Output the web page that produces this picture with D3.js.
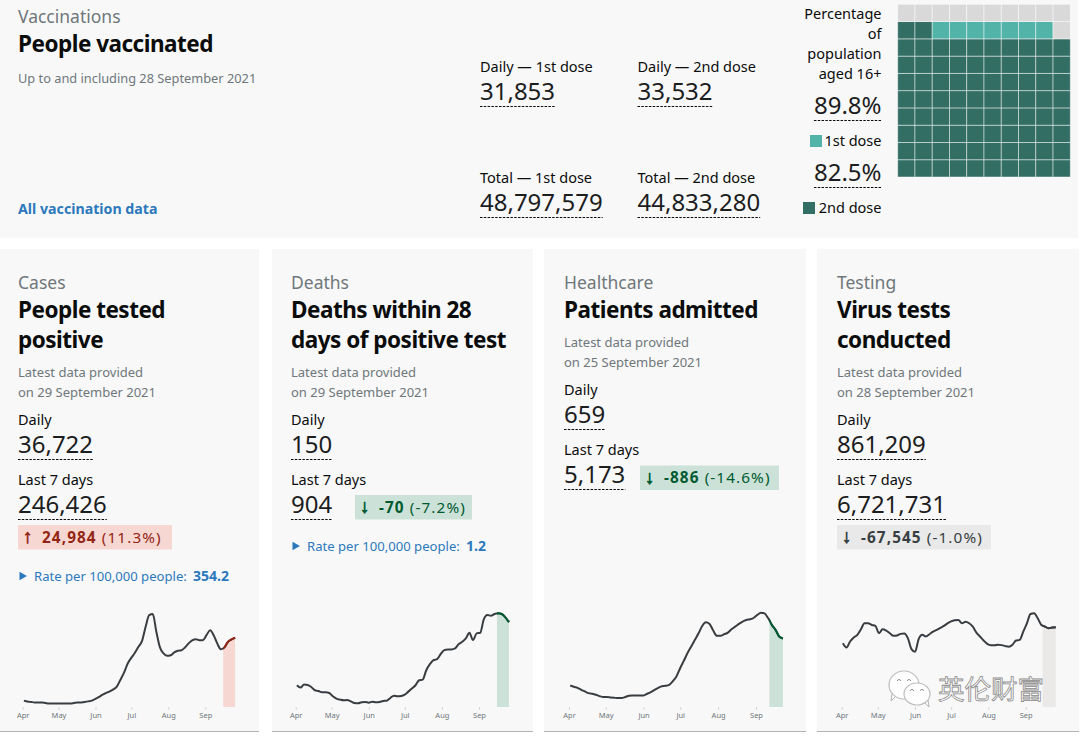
<!DOCTYPE html>
<html>
<head>
<meta charset="utf-8">
<script src="https://cdn.jsdelivr.net/npm/d3@7"></script>
<style>
  html, body { margin: 0; padding: 0; background: #fff; }
  svg { display: block; font-family: "Noto Sans", sans-serif; }
</style>
</head>
<body>
<div id="chart"></div>
<script>
// vaccination panel
var doseLabels = ["Daily \u2014 1st dose", "Daily \u2014 2nd dose", "Total \u2014 1st dose", "Total \u2014 2nd dose"];
var doseValues = ["31,853", "33,532", "48,797,579", "44,833,280"];
var firstDosePct = 89.8;
var secondDosePct = 82.5;

// cards
var categories = ["Cases", "Deaths", "Healthcare", "Testing"];
var titles = [["People tested", "positive"], ["Deaths within 28", "days of positive test"], ["Patients admitted"], ["Virus tests", "conducted"]];
var latestDates = ["29 September 2021", "29 September 2021", "25 September 2021", "28 September 2021"];
var dailyValues = ["36,722", "150", "659", "861,209"];
var weekValues = ["246,426", "904", "5,173", "6,721,731"];
var changeValues = ["24,984", "-70", "-886", "-67,545"];
var changePercents = ["(11.3%)", "(-7.2%)", "(-14.6%)", "(-1.0%)"];
var changeArrows = ["\u2191", "\u2193", "\u2193", "\u2193"];
var changeKinds = ["up", "down", "down", "flat"];
var rateValues = ["354.2", "1.2", null, null];

// line samples, one every three days from 2 April 2021
var sampleDays = d3.range(1, 179, 3);
var casesSeries = [3.2, 2.7, 2.5, 2.3, 2.2, 2.2, 2.0, 1.8, 1.8, 1.7,
  1.7, 1.7, 1.8, 1.8, 2.0, 2.2, 2.3, 2.5, 2.8, 3.2,
  4, 5, 6.2, 7, 7.8, 8.8, 10.3, 13.7, 17.3, 21.7,
  24.5, 27, 30, 33, 40, 45.8, 46.3, 37.5, 29.7, 26.7,
  25.5, 25.8, 27.2, 28, 28.3, 29.7, 31.7, 33.2, 33.8, 33.3,
  33.3, 35.8, 38.3, 35.8, 31.7, 28.8, 29.7, 32.5, 33.7, 34.5];
var deathsSeries = [32.5, 29, 33.5, 33, 30, 25, 24, 22, 22, 21,
  16, 12.5, 11, 10, 10.5, 8.5, 6, 5.5, 7, 7.5,
  6.5, 8, 7, 7.5, 9, 9.5, 13.5, 17, 16, 16.5,
  18.5, 23, 27.5, 32.5, 40, 41, 55, 64, 70, 71.5,
  79, 85, 86, 86, 87.5, 94, 97.5, 102.5, 111, 100,
  110, 111, 131, 137.5, 136.5, 139, 140, 139, 134, 127];
var admissionsSeries = [195, 183, 174, 156, 141, 126, 120, 111, 99, 90,
  90, 87, 84, 81, 81, 90, 102, 105, 105, 105,
  105, 120, 135, 156, 174, 189, 192, 201, 234, 279,
  354, 420, 489, 549, 609, 669, 735, 768, 753, 693,
  645, 645, 660, 675, 705, 729, 753, 774, 789, 795,
  807, 834, 855, 849, 804, 744, 699, 639, 621];
var testsSeries = [772, 720, 792, 840, 872, 940, 1012, 1012, 992, 980,
  892, 940, 924, 892, 860, 864, 884, 888, 832, 700,
  668, 820, 872, 852, 880, 912, 932, 956, 980, 1012,
  1036, 1048, 1052, 1012, 1032, 1012, 972, 900, 852, 804,
  764, 748, 748, 752, 748, 736, 728, 752, 804, 812,
  912, 1012, 1124, 1132, 1072, 992, 972, 952, 960, 964];
var seriesList = [casesSeries, deathsSeries, admissionsSeries, testsSeries];
var seriesMax = [47, 141, 855, 1140];
var highlightFrom = [168, 168, 164, 167];

var config = {
  w: 1080,
  h: 738,
  cardX: [0, 272, 544, 817], //left edge of each card
  cardW: [259, 261, 262, 262],
  aprX: [22.7, 295.7, 569, 841.7], //x of the Apr tick per card
  sepX: [205.3, 479, 756, 1025.7], //x of the Sep tick per card
  plotTop: 612.7,
  plotBottom: 707,
  panel: "#f8f8f8",
  ink: "#0b0c0c",
  grey: "#6f777b",
  blue: "#2b78bd",
  lineColor: "#3a3d40"
};

var changeStyles = {
  up: { bg: "#f6d7d2", text: "#942514", line: "#942514", area: "#f6d7d2" },
  down: { bg: "#cce2d8", text: "#005a30", line: "#005a30", area: "#cce2d8" },
  flat: { bg: "#e9e9e9", text: "#383f43", line: config.lineColor, area: "#ebe9e8" }
};

var svg = d3.select("#chart").append("svg")
  .attr("width", config.w)
  .attr("height", config.h);

function addText(parent, x, y, str, size, color, weight, anchor) {
  return parent.append("text")
    .attr("x", x)
    .attr("y", y)
    .attr("font-size", size)
    .attr("fill", color)
    .attr("font-weight", weight || 400)
    .attr("text-anchor", anchor || "start")
    .text(str);
}

function addTitle(parent, x, y, str) {
  return addText(parent, x, y, str, 22.5, config.ink, 700).attr("letter-spacing", -0.5);
}

// big number with the dashed underline the site uses
function addNumber(parent, x, y, str, anchor) {
  var t = addText(parent, x, y, str, 24, "#1c1d1e", 400, anchor);
  var len = t.node().getComputedTextLength();
  var x1 = anchor === "end" ? x - len : x;
  parent.append("line")
    .attr("x1", x1)
    .attr("x2", x1 + len)
    .attr("y1", y + 6.5)
    .attr("y2", y + 6.5)
    .attr("stroke", config.ink)
    .attr("stroke-width", 1)
    .attr("stroke-dasharray", "2.5,1.3");
  return t;
}

function drawVaccinations() {
  var g = svg.append("g");
  g.append("rect").attr("x", 0).attr("y", 0).attr("width", 1078).attr("height", 238).attr("fill", config.panel);

  addText(g, 18, 23, "Vaccinations", 17.5, config.grey);
  addTitle(g, 18, 52, "People vaccinated");
  addText(g, 18, 83, "Up to and including 28 September 2021", 12.8, config.grey);
  addText(g, 18, 214, "All vaccination data", 14.2, config.blue, 700);

  var doseX = [480, 637.5, 480, 637.5];
  var doseY = [72, 72, 183, 183];
  doseLabels.forEach(function(label, i) {
    addText(g, doseX[i], doseY[i], label, 14.5, config.ink);
    addNumber(g, doseX[i], doseY[i] + 28, doseValues[i]);
  });

  ["Percentage", "of", "population", "aged 16+"].forEach(function(s, i) {
    addText(g, 881.5, 19 + i * 20, s, 14.5, config.ink, 400, "end");
  });
  addNumber(g, 881.5, 114, firstDosePct + "%", "end");
  addNumber(g, 881.5, 181, secondDosePct + "%", "end");
  addText(g, 881.5, 146, "1st dose", 14.5, config.ink, 400, "end");
  addText(g, 881.5, 213, "2nd dose", 14.5, config.ink, 400, "end");
  g.append("rect").attr("x", 810).attr("y", 135).attr("width", 12).attr("height", 12).attr("fill", "#52b3a9");
  g.append("rect").attr("x", 803).attr("y", 202).attr("width", 12).attr("height", 12).attr("fill", "#336e64");

  // waffle, filled from the bottom row up
  var cols = d3.scaleBand().domain(d3.range(10)).range([897.7, 1070.3]);
  var rows = d3.scaleBand().domain(d3.range(10)).range([177, 4.3]);
  g.selectAll(".cell")
    .data(d3.range(100))
    .enter()
    .append("rect")
    .attr("class", "cell")
    .attr("x", function(d) { return cols(d % 10); })
    .attr("y", function(d) { return rows(Math.floor(d / 10)); })
    .attr("width", cols.bandwidth())
    .attr("height", rows.bandwidth())
    .attr("stroke", "#fff")
    .attr("stroke-opacity", 0.5)
    .attr("stroke-width", 0.9)
    .attr("fill", function(d) {
      if (d < Math.floor(secondDosePct)) return "#336e64";
      if (d < Math.floor(firstDosePct)) return "#52b3a9";
      return "#d9d9d9";
    });
}

function drawSparkline(g, i) {
  var style = changeStyles[changeKinds[i]];
  var toDate = function(day) { return new Date(2021, 3, 1 + day); };
  var values = seriesList[i];
  var points = values.map(function(v, j) { return { date: toDate(sampleDays[j]), value: v }; });

  var x = d3.scaleTime()
    .domain([new Date(2021, 3, 1), new Date(2021, 8, 1)])
    .range([config.aprX[i], config.sepX[i]]);
  var y = d3.scaleLinear()
    .domain([0, seriesMax[i]])
    .range([config.plotBottom, config.plotTop]);

  var line = d3.line()
    .curve(d3.curveMonotoneX)
    .x(function(d) { return x(d.date); })
    .y(function(d) { return y(d.value); });
  var area = d3.area()
    .curve(d3.curveMonotoneX)
    .x(function(d) { return x(d.date); })
    .y0(config.plotBottom)
    .y1(function(d) { return y(d.value); });

  var startX = x(toDate(highlightFrom[i]));
  var clipId = "recent" + i;
  g.append("clipPath").attr("id", clipId)
    .append("rect")
    .attr("x", startX)
    .attr("y", config.plotTop - 5)
    .attr("width", 60)
    .attr("height", config.plotBottom - config.plotTop + 5);

  g.append("path")
    .attr("d", area(points))
    .attr("fill", style.area)
    .attr("clip-path", "url(#" + clipId + ")");
  g.append("path")
    .attr("d", line(points))
    .attr("fill", "none")
    .attr("stroke", config.lineColor)
    .attr("stroke-width", 2);
  g.append("path")
    .attr("d", line(points))
    .attr("fill", "none")
    .attr("stroke", style.line)
    .attr("stroke-width", 2)
    .attr("clip-path", "url(#" + clipId + ")");

  var axis = d3.axisBottom(x)
    .ticks(d3.timeMonth.every(1))
    .tickSize(2)
    .tickPadding(3)
    .tickFormat(d3.timeFormat("%b"));
  var ag = g.append("g")
    .attr("transform", "translate(0," + (config.plotBottom + 0.5) + ")")
    .call(axis);
  ag.select(".domain").remove();
  ag.selectAll("line").attr("stroke", "#c4c6c8");
  ag.selectAll("text")
    .attr("fill", "#6f777b")
    .attr("font-size", 7.5)
    .attr("font-family", '"Noto Sans", sans-serif');
}

function drawBadge(g, i, x, y, w) {
  var style = changeStyles[changeKinds[i]];
  g.append("rect")
    .attr("x", x)
    .attr("y", y)
    .attr("width", w)
    .attr("height", 24.5)
    .attr("fill", style.bg);
  addText(g, x + 5, y + 18, changeArrows[i], 19, style.text, 700)
    .attr("stroke", style.text)
    .attr("stroke-width", 0.7);
  var t = g.append("text")
    .attr("x", x + 24)
    .attr("y", y + 17.5)
    .attr("font-size", 15.3)
    .attr("letter-spacing", 1.1)
    .attr("fill", style.text);
  t.append("tspan").attr("font-weight", 700).text(changeValues[i] + " ");
  t.append("tspan").attr("font-weight", 400).text(changePercents[i]);
}

function drawCard(i) {
  var g = svg.append("g");
  var x0 = config.cardX[i];
  var tx = x0 + 18 + (i === 1 ? 1 : 0) + (i === 2 ? 2 : 0) + (i === 3 ? 2 : 0);
  g.append("rect")
    .attr("x", x0)
    .attr("y", 249)
    .attr("width", config.cardW[i])
    .attr("height", 482)
    .attr("fill", config.panel);
  g.append("line")
    .attr("x1", x0)
    .attr("x2", x0 + config.cardW[i])
    .attr("y1", 731.5)
    .attr("y2", 731.5)
    .attr("stroke", "#b1b4b6");

  addText(g, tx, 289, categories[i], 17.5, config.grey);
  titles[i].forEach(function(s, j) {
    addTitle(g, tx, 317.5 + j * 30, s);
  });

  // everything below the title moves up when the title is one line
  var dy = titles[i].length === 1 ? -30 : 0;
  addText(g, tx, 377 + dy, "Latest data provided", 13, config.grey);
  addText(g, tx, 397 + dy, "on " + latestDates[i], 13, config.grey);
  addText(g, tx, 424.5 + dy, "Daily", 14.5, config.ink);
  addNumber(g, tx, 453 + dy, dailyValues[i]);
  addText(g, tx, 484.5 + dy, "Last 7 days", 14.5, config.ink);
  addNumber(g, tx, 513 + dy, weekValues[i]);

  // badge sits beside short numbers, below long ones
  if (i === 1) drawBadge(g, i, 355, 495, 117);
  if (i === 2) drawBadge(g, i, 640, 465.5, 139);
  if (i === 0) drawBadge(g, i, tx, 525, 154);
  if (i === 3) drawBadge(g, i, tx, 525, 154);

  if (rateValues[i]) {
    var rateY = i === 0 ? 581 : 551;
    g.append("path")
      .attr("d", d3.symbol().type(d3.symbolTriangle).size(32)())
      .attr("transform", "translate(" + (tx + 4) + "," + (rateY - 5) + ") rotate(90)")
      .attr("fill", config.blue);
    addText(g, tx + 16, rateY, "Rate per 100,000 people:", 13.1, config.blue);
    addText(g, tx + 175, rateY, rateValues[i], 14, config.blue, 700);
  }

  drawSparkline(g, i);
}

function drawWatermark() {
  var g = svg.append("g");
  var bubble = function(cx, cy, rx, ry, tail) {
    g.append("path")
      .attr("d", "M" + (cx + tail[0]) + "," + (cy + ry - 3) + "l" + tail[1] + "," + tail[2] + "l" + (-tail[1] * 0.2) + "," + (-tail[2] - 2))
      .attr("fill", "#fff")
      .attr("stroke", "#b4b4b4");
    g.append("ellipse").attr("cx", cx).attr("cy", cy).attr("rx", rx).attr("ry", ry)
      .attr("fill", "#fff").attr("stroke", "#bdbdbd").attr("stroke-width", 1.2);
    [-5, 5].forEach(function(dx) {
      g.append("path")
        .attr("d", "M" + (cx + dx - 2) + "," + (cy - ry * 0.3) + "q2,-3 4,0")
        .attr("fill", "none")
        .attr("stroke", "#8c8c8c");
    });
  };
  bubble(904, 685, 15, 14, [-8, -5, 5]);
  bubble(917, 694, 13, 11, [7, 5, 5]);
  g.append("text")
    .attr("x", 938)
    .attr("y", 699)
    .attr("font-family", '"Noto Sans CJK SC"')
    .attr("font-size", 26.5)
    .attr("fill", "#fff")
    .attr("stroke", "#8a8a8a")
    .attr("stroke-width", 0.8)
    .text("\u82f1\u4f26\u8d22\u5bcc");
}

drawVaccinations();
categories.forEach(function(c, i) { drawCard(i); });
drawWatermark();
</script>
</body>
</html>
